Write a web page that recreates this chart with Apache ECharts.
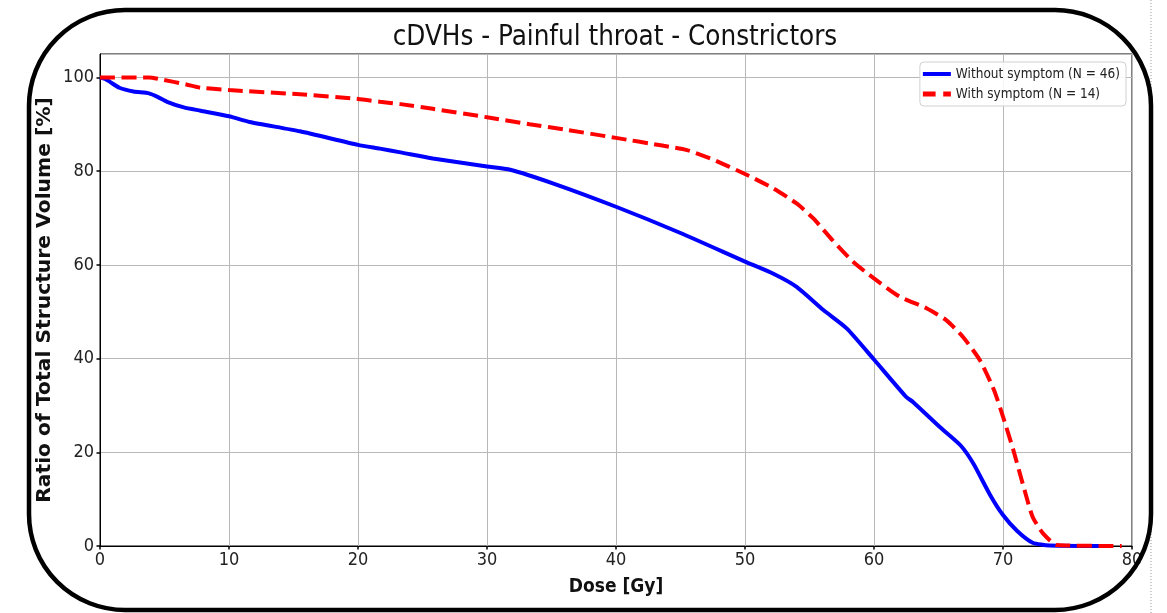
<!DOCTYPE html>
<html>
<head>
<meta charset="utf-8">
<script src="https://cdn.jsdelivr.net/npm/echarts@6/dist/echarts.min.js"></script>
<style>
html,body{margin:0;padding:0;background:#fff;}
#chart{width:1167px;height:613px;}
</style>
</head>
<body>
<div id="chart"></div>
<script>
const titleText = 'cDVHs - Painful throat - Constrictors';
const seriesNames = ['Without symptom (N = 46)', 'With symptom (N = 14)'];
const xTicks = [0, 10, 20, 30, 40, 50, 60, 70, 80];
const yTicks = [0, 20, 40, 60, 80, 100];

const blueDose = [0, 0.4, 0.8, 1.5, 2.6, 3.8, 4.5, 5.2, 6.5, 7.8, 10, 11.6, 15.5, 20, 21.7, 23.3, 25.8, 30, 31.8, 35.1, 40, 45, 50, 52.2, 54, 56.1, 57.9, 60, 62.5, 63, 65.1, 66.7, 67.7, 69, 70, 71.1, 72.3, 73.6, 78.5];
const blueVol  = [100, 99.7, 99.0, 97.8, 97.0, 96.6, 95.8, 94.8, 93.6, 92.9, 91.7, 90.5, 88.5, 85.6, 84.8, 84.0, 82.7, 81.0, 80.3, 77.4, 72.4, 66.8, 60.7, 58.1, 55.3, 50.3, 46.4, 39.8, 31.8, 30.8, 25.4, 21.5, 17.6, 10.9, 6.6, 3.2, 0.7, 0.1, 0];

const redDose = [0, 3.8, 4.7, 6.7, 7.8, 10, 15.5, 20, 21.7, 23.3, 25.8, 30, 33.3, 36.2, 40, 43.7, 45.5, 47.5, 50, 52.2, 54, 55.3, 56.8, 58.4, 60, 62, 64.1, 65.6, 66.9, 68.2, 69.3, 70, 70.8, 71.6, 72.3, 73.1, 74.2, 79.2];
const redVol  = [100, 100, 99.6, 98.5, 97.8, 97.3, 96.4, 95.4, 94.8, 94.3, 93.3, 91.5, 90.0, 88.8, 87.1, 85.4, 84.5, 82.5, 79.4, 76.3, 73.1, 69.9, 65.2, 60.6, 57.1, 53.2, 50.7, 48.2, 44.6, 39.7, 33.3, 27.6, 20.5, 12.6, 6.2, 2.7, 0.2, 0];

const pairs = (xs, ys) => xs.map((x, i) => [x, ys[i]]);
const COND = "'DejaVu Sans Condensed', 'DejaVu Sans', sans-serif";

const chart = echarts.init(document.getElementById('chart'), null, {renderer: 'canvas'});
chart.setOption({
  backgroundColor: '#fff',
  animation: false,
  title: {
    text: titleText,
    left: 610,
    textAlign: 'center',
    top: 19,
    textStyle: {fontFamily: COND, fontSize: 27.5, fontWeight: 'normal', color: '#111'}
  },
  grid: {left: 100, right: 35, top: 54, bottom: 67, show: true, borderColor: '#000', borderWidth: 1, backgroundColor: 'transparent'},
  legend: {
    orient: 'vertical',
    right: 41,
    top: 62,
    itemWidth: 28,
    itemHeight: 10,
    itemGap: 6,
    padding: [5, 6, 5, 3],
    borderColor: '#d0d0d0',
    borderWidth: 1,
    borderRadius: 4,
    backgroundColor: 'rgba(255,255,255,0.85)',
    textStyle: {fontFamily: COND, fontSize: 13.5, color: '#222'},
    data: [
      {name: seriesNames[0], icon: 'path://M0,0 L28,0 L28,4 L0,4 Z', itemStyle: {color: '#0000ff'}},
      {name: seriesNames[1], icon: 'path://M0,0 L10,0 L10,4 L0,4 Z M16,0 L22,0 L22,4 L16,4 Z', itemStyle: {color: '#ff0000'}}
    ]
  },
  xAxis: {
    type: 'value', min: xTicks[0], max: xTicks[xTicks.length - 1], interval: 10,
    name: 'Dose [Gy]', nameLocation: 'middle', nameGap: 32, nameMoveOverlap: false,
    nameTextStyle: {fontFamily: COND, fontSize: 19, fontWeight: 'bold', color: '#111'},
    axisLine: {lineStyle: {color: '#000', width: 1}},
    axisTick: {show: true, length: 3.5, lineStyle: {color: '#000', width: 1.5}},
    axisLabel: {fontFamily: COND, fontSize: 18, color: '#222', margin: 5},
    splitLine: {show: true, lineStyle: {color: '#b8b8b8', width: 1}}
  },
  yAxis: {
    type: 'value', min: 0, max: 105, interval: 20,
    name: 'Ratio of Total Structure Volume [%]', nameLocation: 'middle', nameGap: 45, nameMoveOverlap: false,
    nameTextStyle: {fontFamily: "'DejaVu Sans', sans-serif", fontSize: 20.3, fontWeight: 'bold', color: '#111'},
    axisLine: {lineStyle: {color: '#000', width: 1}},
    axisTick: {show: true, length: 3.5, lineStyle: {color: '#000', width: 1.5}},
    axisLabel: {fontFamily: COND, fontSize: 18, color: '#222', margin: 6, showMaxLabel: false,
      formatter: v => (yTicks.indexOf(v) >= 0 ? String(v) : '')},
    splitLine: {show: true, lineStyle: {color: '#b8b8b8', width: 1}}
  },
  series: [
    {
      name: seriesNames[0], type: 'line', data: pairs(blueDose, blueVol),
      showSymbol: false, symbol: 'none', smooth: 0.2,
      lineStyle: {color: '#0000ff', width: 4}, itemStyle: {color: '#0000ff'}, z: 3
    },
    {
      name: seriesNames[1], type: 'line', data: pairs(redDose, redVol),
      showSymbol: false, symbol: 'none', smooth: 0.2,
      lineStyle: {color: '#ff0000', width: 4, type: [15, 6.5]}, itemStyle: {color: '#ff0000'}, z: 4
    }
  ],
  graphic: [
    {type: 'line', z: 100, shape: {x1: 1151, y1: 0, x2: 1151, y2: 613}, style: {stroke: '#9a9a9a', lineWidth: 1, lineDash: [1, 2]}},
    {type: 'rect', z: 101, shape: {x: 29, y: 10, width: 1122, height: 600, r: 96}, style: {fill: 'none', stroke: '#000', lineWidth: 4.5}}
  ]
});
</script>
</body>
</html>
